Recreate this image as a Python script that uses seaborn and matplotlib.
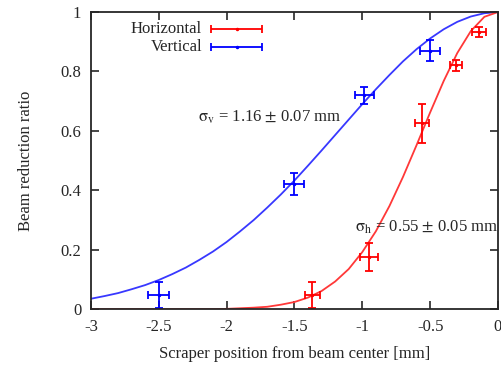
import numpy as np
import pandas as pd
import seaborn as sns
import matplotlib.pyplot as plt

# measured points (scraper position, reduction ratio, errors)
h_x = [-1.37, -0.95, -0.56, -0.31, -0.14]
h_y = [0.047, 0.176, 0.625, 0.821, 0.934]
h_xerr = [0.055, 0.068, 0.053, 0.045, 0.05]
h_yerr = [0.043, 0.046, 0.067, 0.018, 0.017]

v_x = [-2.50, -1.505, -0.985, -0.50]
v_y = [0.047, 0.421, 0.72, 0.87]
v_xerr = [0.077, 0.074, 0.07, 0.076]
v_yerr = [0.043, 0.036, 0.028, 0.036]

# fitted curves
curve_x = [-3.0, -2.9, -2.8, -2.7, -2.6, -2.5, -2.4, -2.3, -2.2, -2.1, -2.0,
           -1.9, -1.8, -1.7, -1.6, -1.5, -1.4, -1.3, -1.2, -1.1, -1.0,
           -0.9, -0.8, -0.7, -0.6, -0.5, -0.4, -0.3, -0.2, -0.1, 0.0]
curve_v = [0.035, 0.044, 0.054, 0.067, 0.081, 0.098, 0.118, 0.140, 0.166, 0.194, 0.226,
           0.262, 0.300, 0.342, 0.386, 0.433, 0.483, 0.534, 0.586, 0.638, 0.690,
           0.740, 0.788, 0.834, 0.875, 0.911, 0.942, 0.967, 0.985, 0.996, 1.0]
curve_h = [0.0, 0.0, 0.0, 0.0, 0.0, 0.0, 0.0, 0.0, 0.0, 0.0, 0.001,
           0.003, 0.005, 0.008, 0.015, 0.024, 0.039, 0.061, 0.093, 0.135, 0.192,
           0.262, 0.347, 0.445, 0.552, 0.662, 0.768, 0.862, 0.936, 0.984, 1.0]

x_ticks = [-3, -2.5, -2, -1.5, -1, -0.5, 0]
x_labels = ["-3", "-2.5", "-2", "-1.5", "-1", "-0.5", "0"]
y_ticks = [0, 0.2, 0.4, 0.6, 0.8, 1]
y_labels = ["0", "0.2", "0.4", "0.6", "0.8", "1"]

sns.set_style("ticks")
plt.rcParams['font.family'] = ['Liberation Serif', 'DejaVu Serif']
plt.rcParams['axes.unicode_minus'] = False
plt.rcParams['font.size'] = 12
plt.rcParams['mathtext.fontset'] = 'stix'

fig = plt.figure(figsize=(5.02, 3.65), dpi=100)
ax = fig.add_axes([0.181, 0.153, 0.811, 0.814])

curves = pd.DataFrame({'x': curve_x, 'v': curve_v, 'h': curve_h})
sns.lineplot(data=curves, x='x', y='v', color='#3838ff', lw=1.3, ax=ax)
sns.lineplot(data=curves, x='x', y='h', color='#ff3838', lw=1.3, ax=ax)

ax.errorbar(h_x, h_y, xerr=h_xerr, yerr=h_yerr, fmt='.', color='#ff0000',
            ms=3, elinewidth=1.3, capsize=3, capthick=1.3)
ax.errorbar(v_x, v_y, xerr=v_xerr, yerr=v_yerr, fmt='.', color='#0000ff',
            ms=3, elinewidth=1.3, capsize=3, capthick=1.3)

# legend in gnuplot style
rows = [("Horizontal", '#ff0000', 0.943), ("Vertical", '#0000ff', 0.882)]
for label, col, yy in rows:
    ax.text(0.273, yy, label, transform=ax.transAxes, ha='right', va='center')
    ax.errorbar([0.358], [yy], xerr=[0.062], fmt='.', color=col, ms=3,
                elinewidth=1.3, capsize=3, capthick=1.3, transform=ax.transAxes)

ax.text(-2.21, 0.646, r"$\mathrm{\sigma_v}$ = 1.16 $\pm$ 0.07 mm", va='center')
ax.text(-1.05, 0.276, r"$\mathrm{\sigma_h}$ = 0.55 $\pm$ 0.05 mm", va='center')

ax.set_xlim(-3, 0)
ax.set_ylim(0, 1)
ax.set_xticks(x_ticks)
ax.set_xticklabels(x_labels)
ax.set_yticks(y_ticks)
ax.set_yticklabels(y_labels)
ax.tick_params(direction='in', length=6, width=1.2, top=True, right=True, pad=7)
for s in ax.spines.values():
    s.set_linewidth(1.3)
ax.set_xlabel("Scraper position from beam center [mm]", labelpad=8)
ax.set_ylabel("Beam reduction ratio", labelpad=19)

fig.savefig('out.png', dpi=100)
